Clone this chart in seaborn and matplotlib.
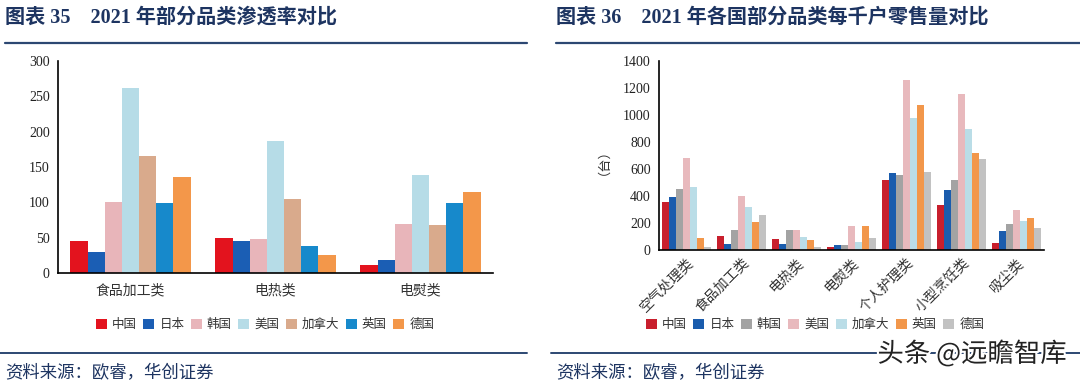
import pandas as pd
import seaborn as sns
import numpy as np
import matplotlib.pyplot as plt
from matplotlib.patches import Patch
import matplotlib.patheffects as pe

# data: chart 35 (penetration rate)
cats_l = ['食品加工类', '电热类', '电熨类']
countries_l = ['中国', '日本', '韩国', '美国', '加拿大', '英国', '德国']
vals_l = {
    '中国':   [45, 49, 12],
    '日本':   [30, 45, 19],
    '韩国':   [100, 48, 70],
    '美国':   [262, 187, 138],
    '加拿大': [165, 105, 68],
    '英国':   [99, 38, 99],
    '德国':   [136, 25, 114],
}
colors_l = ['#e3131e', '#1b5eb4', '#e8b5ba', '#b6dce7', '#d9aa8c', '#1789cb', '#f3974a']

# data: chart 36 (retail volume per thousand households)
cats_r = ['空气处理类', '食品加工类', '电热类', '电熨类', '个人护理类', '小型烹饪类', '吸尘类']
countries_r = ['中国', '日本', '韩国', '美国', '加拿大', '英国', '德国']
vals_r = {
    '中国':   [355, 106, 81, 20, 518, 330, 49],
    '日本':   [392, 44, 44, 37, 569, 446, 140],
    '韩国':   [451, 148, 148, 37, 557, 515, 195],
    '美国':   [685, 397, 148, 175, 1262, 1156, 300],
    '加拿大': [468, 315, 94, 57, 981, 900, 212],
    '英国':   [91, 205, 76, 175, 1072, 715, 237],
    '德国':   [20, 256, 20, 89, 579, 675, 160],
}
colors_r = ['#c81f2d', '#1a5cad', '#a3a3a3', '#e8b9bd', '#badde7', '#f2974b', '#c2c2c2']

title_l = '图表 35    2021 年部分品类渗透率对比'
title_r = '图表 36    2021 年各国部分品类每千户零售量对比'
source = '资料来源：欧睿，华创证券'
navy = '#1d3461'

sns.set_theme(style='white')
plt.rcParams['font.family'] = ['Liberation Serif', 'Noto Sans CJK SC']
plt.rcParams['axes.unicode_minus'] = False

W, H = 1080, 383
fig = plt.figure(figsize=(W / 100, H / 100), dpi=100)
fig.patch.set_facecolor('white')


def to_long(cats, countries, vals):
    rows = []
    for c in countries:
        for cat, v in zip(cats, vals[c]):
            rows.append({'cat': cat, 'country': c, 'val': v})
    return pd.DataFrame(rows)


def style_axes(ax, ncat):
    for s in ['top', 'right']:
        ax.spines[s].set_visible(False)
    for s in ['left', 'bottom']:
        ax.spines[s].set_color('black')
        ax.spines[s].set_linewidth(1.2)
    ax.set_xlim(-0.5, ncat - 0.5)
    ax.set_xticks(np.arange(-0.5, ncat), minor=True)
    ax.tick_params(axis='x', which='major', length=0, pad=8)
    ax.tick_params(axis='x', which='minor', length=5, width=1.2, direction='out', color='black')
    ax.tick_params(axis='y', length=4, width=1.2, direction='out', color='black', pad=2)
    ax.set_xlabel('')
    ax.grid(False)


# left chart
axl = fig.add_axes([58 / W, (H - 273) / H, (493 - 58) / W, (273 - 61) / H])
dfl = to_long(cats_l, countries_l, vals_l)
sns.barplot(data=dfl, x='cat', y='val', hue='country', order=cats_l, hue_order=countries_l,
            palette=colors_l, saturation=1, width=0.83, linewidth=0, ax=axl, legend=False)
style_axes(axl, len(cats_l))
axl.set_ylim(0, 300)
axl.set_yticks(range(0, 301, 50))
axl.set_ylabel('')
axl.tick_params(axis='both', labelsize=10, labelcolor='#222222')
axl.set_xticks(range(len(cats_l)))
axl.set_xticklabels(cats_l, fontsize=10, color='#333333')
hl = [Patch(facecolor=c, edgecolor='none') for c in colors_l]
fig.legend(hl, countries_l, loc='center', bbox_to_anchor=(265 / W, 1 - 325 / H), ncol=7,
           frameon=False, fontsize=9, handlelength=0.9, handleheight=0.9,
           handletextpad=0.4, columnspacing=0.5, labelcolor='#333333')

# right chart
axr = fig.add_axes([659 / W, (H - 250) / H, (1044 - 659) / W, (250 - 61) / H])
dfr = to_long(cats_r, countries_r, vals_r)
sns.barplot(data=dfr, x='cat', y='val', hue='country', order=cats_r, hue_order=countries_r,
            palette=colors_r, saturation=1, width=0.88, linewidth=0, ax=axr, legend=False)
style_axes(axr, len(cats_r))
axr.set_ylim(0, 1400)
axr.set_yticks(range(0, 1401, 200))
axr.set_ylabel('（台）', fontsize=9.5, color='#333333', labelpad=14)
axr.tick_params(axis='y', labelsize=10, labelcolor='#222222')
axr.set_xticks(range(len(cats_r)))
axr.set_xticklabels(cats_r, fontsize=10, color='#333333', rotation=45,
                    ha='right', rotation_mode='anchor')
axr.tick_params(axis='x', which='major', pad=4)
hr = [Patch(facecolor=c, edgecolor='none') for c in colors_r]
fig.legend(hr, countries_r, loc='center', bbox_to_anchor=(815 / W, 1 - 325 / H), ncol=7,
           frameon=False, fontsize=9, handlelength=0.9, handleheight=0.9,
           handletextpad=0.4, columnspacing=0.5, labelcolor='#333333')

# titles, rules and source notes
for x0, x1, t in [(5, 527, title_l), (556, 1080, title_r)]:
    fig.text(x0 / W, 1 - 18 / H, t, fontsize=14.5, fontweight='bold', color=navy,
             va='center', ha='left')
    fig.add_artist(plt.Line2D([x0 / W, x1 / W], [1 - 43 / H, 1 - 43 / H],
                              color='#2c4772', lw=1.6))
    fig.add_artist(plt.Line2D([(x0 - 5) / W, x1 / W], [1 - 353 / H, 1 - 353 / H],
                              color='#2c4772', lw=1.4))
    fig.text(x0 / W, 1 - 374 / H, source, fontsize=12.5, style='italic', color=navy,
             va='center', ha='left')

# watermark
wm = fig.text(972 / W, 1 - 354 / H, '头条 @远瞻智库', fontsize=19, color='#222222',
              family=['Noto Sans CJK SC', 'DejaVu Sans'], va='center', ha='center')
wm.set_path_effects([pe.withStroke(linewidth=3, foreground='white')])

fig.savefig('out.png', dpi=100, facecolor='white')
